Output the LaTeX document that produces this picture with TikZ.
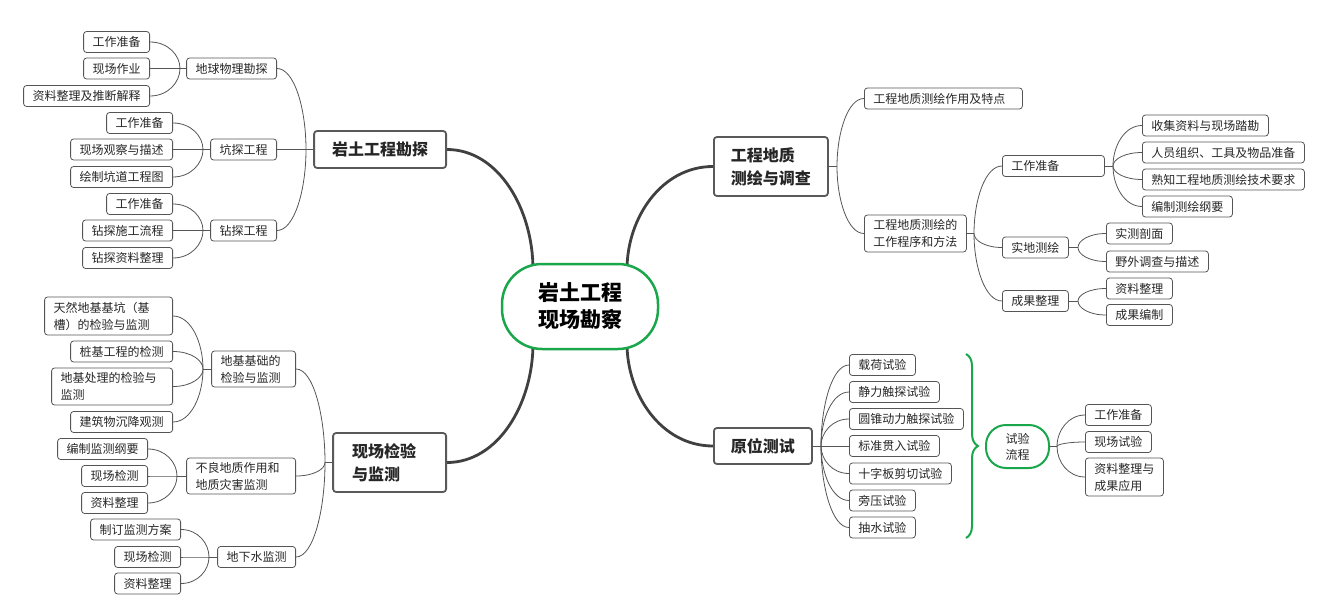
\documentclass[tikz,border=0pt]{standalone}
\usepackage{fontspec}
\setmainfont{Noto Sans CJK SC}
\usepackage{xcolor}
\usepackage{tikz}
\usetikzlibrary{positioning,arrows.meta,calc,decorations.pathreplacing,backgrounds}
\definecolor{mapgreen}{HTML}{1AA64B}
\definecolor{linegray}{HTML}{555555}

\begin{document}
\begin{tikzpicture}[x=1pt, y=1pt,
  every node/.style={font=\fontsize{12}{17}\selectfont, text=black!85},
  box/.style={draw=linegray, line width=0.8pt, rounded corners=3pt,
              minimum height=21pt, inner xsep=9pt, inner ysep=3pt},
  lbox/.style={box, anchor=east},
  rbox/.style={box, anchor=west},
  topic/.style={draw=black!65, line width=1.8pt, rounded corners=3pt, fill=white,
                font=\fontsize{16}{23}\selectfont\bfseries, inner xsep=17pt, align=left},
  core/.style={draw=mapgreen, line width=2.5pt, rounded corners=40pt, fill=white,
               minimum width=156pt, minimum height=85pt, align=center,
               font=\fontsize{21}{27}\selectfont\bfseries, text=black},
  flowbox/.style={draw=mapgreen, line width=2pt, rounded corners=20pt,
                  minimum width=63pt, minimum height=43pt, align=center,
                  font=\fontsize{12}{16}\selectfont},
  grpbrace/.style={draw=mapgreen, line width=2pt, decorate,
                   decoration={brace, amplitude=12pt}},
  link/.style={draw=linegray, line width=0.8pt},
  trunk/.style={draw=black!75, line width=2.8pt},
  branch/.style={to path={.. controls ($(\tikztostart)!0.6!(\tikztotarget |- \tikztostart)$)
                 and ($(\tikztotarget)!0.5!(\tikztotarget |- \tikztostart)$) .. (\tikztotarget)}}]

  \useasboundingbox (0,0) rectangle (1321,-615);

  %% ─── Centre ────────────────────────────────────────────────────────────
  \node[core] (core) at (580,-306.5) {岩土工程\\现场勘察};
  \coordinate (core_nw) at ($(core.center)+(-47,37)$);
  \coordinate (core_ne) at ($(core.center)+(47,37)$);
  \coordinate (core_sw) at ($(core.center)+(-47,-37)$);
  \coordinate (core_se) at ($(core.center)+(47,-37)$);

  %% ─── Left top: 岩土工程勘探 ─────────────────────────────────────────────
  \node[topic, anchor=east, minimum height=37pt, inner xsep=18pt] (kt_main) at (447,-149.5) {岩土工程勘探};
  \coordinate (kt_j) at (306,-149.5);
  \node[lbox] (kt_wl) at (277,-68.5)  {地球物理勘探};
  \node[lbox] (kt_kt) at (277,-149.5) {坑探工程};
  \node[lbox] (kt_zt) at (277,-230.5) {钻探工程};

  \coordinate (kt_wl_j) at (180,-68.5);
  \node[lbox] (kt_wl1) at (150,-42)   {工作准备};
  \node[lbox] (kt_wl2) at (150,-68.5) {现场作业};
  \node[lbox] (kt_wl3) at (150,-96)   {资料整理及推断解释};

  \coordinate (kt_kt_j) at (203,-149.5);
  \node[lbox] (kt_kt1) at (173,-123)   {工作准备};
  \node[lbox] (kt_kt2) at (173,-149.5) {现场观察与描述};
  \node[lbox] (kt_kt3) at (173,-177)   {绘制坑道工程图};

  \coordinate (kt_zt_j) at (203,-230.5);
  \node[lbox] (kt_zt1) at (173,-204)   {工作准备};
  \node[lbox] (kt_zt2) at (173,-230.5) {钻探施工流程};
  \node[lbox] (kt_zt3) at (173,-258)   {钻探资料整理};

  \draw[link] (kt_main.west) -- (kt_j);
  \draw[link] (kt_wl.east) to[branch] (kt_j);
  \draw[link] (kt_kt.east) to[branch] (kt_j);
  \draw[link] (kt_zt.east) to[branch] (kt_j);
  \draw[link] (kt_wl.west) -- (kt_wl_j);
  \draw[link] (kt_wl1.east) to[branch] (kt_wl_j);
  \draw[link] (kt_wl2.east) to[branch] (kt_wl_j);
  \draw[link] (kt_wl3.east) to[branch] (kt_wl_j);
  \draw[link] (kt_kt.west) -- (kt_kt_j);
  \draw[link] (kt_kt1.east) to[branch] (kt_kt_j);
  \draw[link] (kt_kt2.east) to[branch] (kt_kt_j);
  \draw[link] (kt_kt3.east) to[branch] (kt_kt_j);
  \draw[link] (kt_zt.west) -- (kt_zt_j);
  \draw[link] (kt_zt1.east) to[branch] (kt_zt_j);
  \draw[link] (kt_zt2.east) to[branch] (kt_zt_j);
  \draw[link] (kt_zt3.east) to[branch] (kt_zt_j);

  %% ─── Left bottom: 现场检验与监测 ───────────────────────────────────────
  \node[topic, anchor=east, minimum height=59pt, text width=75pt, inner xsep=19pt] (jc_main) at (447,-462.5) {现场检验\\与监测};
  \coordinate (jc_j) at (325,-462.5);
  \node[lbox, text width=66pt, align=left, minimum height=36pt] (jc_dj) at (296,-369) {地基基础的\\检验与监测};
  \node[lbox, text width=91pt, align=left, minimum height=36pt] (jc_bl) at (296,-476) {不良地质作用和\\地质灾害监测};
  \node[lbox] (jc_dx) at (296,-557) {地下水监测};

  \coordinate (jc_dj_j) at (203,-369);
  \node[lbox, text width=110pt, align=left, minimum height=38pt] (jc_dj1) at (173,-316) {天然地基基坑（基\\槽）的检验与监测};
  \node[lbox] (jc_dj2) at (173,-351.5) {桩基工程的检测};
  \node[lbox, text width=103pt, align=left, minimum height=37pt] (jc_dj3) at (173,-386.5) {地基处理的检验与\\监测};
  \node[lbox] (jc_dj4) at (173,-422) {建筑物沉降观测};

  \coordinate (jc_bl_j) at (177,-476);
  \node[lbox] (jc_bl1) at (148,-449) {编制监测纲要};
  \node[lbox] (jc_bl2) at (148,-476) {现场检测};
  \node[lbox] (jc_bl3) at (148,-503) {资料整理};

  \coordinate (jc_dx_j) at (209,-557);
  \node[lbox] (jc_dx1) at (181,-529.5) {制订监测方案};
  \node[lbox] (jc_dx2) at (181,-557)   {现场检测};
  \node[lbox] (jc_dx3) at (181,-583.5) {资料整理};

  \draw[link] (jc_main.west) -- (jc_j);
  \draw[link] (jc_dj.east) to[branch] (jc_j);
  \draw[link] (jc_bl.east) to[branch] (jc_j);
  \draw[link] (jc_dx.east) to[branch] (jc_j);
  \draw[link] (jc_dj.west) -- (jc_dj_j);
  \draw[link] (jc_dj1.east) to[branch] (jc_dj_j);
  \draw[link] (jc_dj2.east) to[branch] (jc_dj_j);
  \draw[link] (jc_dj3.east) to[branch] (jc_dj_j);
  \draw[link] (jc_dj4.east) to[branch] (jc_dj_j);
  \draw[link] (jc_bl.west) -- (jc_bl_j);
  \draw[link] (jc_bl1.east) to[branch] (jc_bl_j);
  \draw[link] (jc_bl2.east) to[branch] (jc_bl_j);
  \draw[link] (jc_bl3.east) to[branch] (jc_bl_j);
  \draw[link] (jc_dx.west) -- (jc_dx_j);
  \draw[link] (jc_dx1.east) to[branch] (jc_dx_j);
  \draw[link] (jc_dx2.east) to[branch] (jc_dx_j);
  \draw[link] (jc_dx3.east) to[branch] (jc_dx_j);

  %% ─── Right top: 工程地质测绘与调查 ─────────────────────────────────────
  \node[topic, anchor=west, minimum height=59pt] (ch_main) at (713,-166.5) {工程地质\\测绘与调查};
  \coordinate (ch_j) at (837,-166.5);
  \node[rbox, text width=140pt, align=left] (ch_td) at (864,-98.5) {工程地质测绘作用及特点};
  \node[rbox, text width=84pt, align=left, minimum height=37pt] (ch_cx) at (864,-233.5) {工程地质测绘的\\工作程序和方法};

  \coordinate (ch_cx_j) at (974,-233.5);
  \node[rbox, text width=84pt, align=left] (ch_zb) at (1002,-166) {工作准备};
  \node[rbox] (ch_sd) at (1002,-247.5) {实地测绘};
  \node[rbox] (ch_cg) at (1002,-301)   {成果整理};

  \coordinate (ch_zb_j) at (1113,-166);
  \node[rbox] (ch_zb1) at (1142,-125.5) {收集资料与现场踏勘};
  \node[rbox] (ch_zb2) at (1142,-152.5) {人员组织、工具及物品准备};
  \node[rbox] (ch_zb3) at (1142,-179.5) {熟知工程地质测绘技术要求};
  \node[rbox] (ch_zb4) at (1142,-206.5) {编制测绘纲要};

  \coordinate (ch_sd_j) at (1078,-247.5);
  \node[rbox] (ch_sd1) at (1106,-233.5) {实测剖面};
  \node[rbox] (ch_sd2) at (1106,-261.5) {野外调查与描述};

  \coordinate (ch_cg_j) at (1078,-301);
  \node[rbox] (ch_cg1) at (1106,-288.5) {资料整理};
  \node[rbox] (ch_cg2) at (1106,-315)   {成果编制};

  \draw[link] (ch_main.east) -- (ch_j);
  \draw[link] (ch_td.west) to[branch] (ch_j);
  \draw[link] (ch_cx.west) to[branch] (ch_j);
  \draw[link] (ch_cx.east) -- (ch_cx_j);
  \draw[link] (ch_zb.west) to[branch] (ch_cx_j);
  \draw[link] (ch_sd.west) to[branch] (ch_cx_j);
  \draw[link] (ch_cg.west) to[branch] (ch_cx_j);
  \draw[link] (ch_zb.east) -- (ch_zb_j);
  \draw[link] (ch_zb1.west) to[branch] (ch_zb_j);
  \draw[link] (ch_zb2.west) to[branch] (ch_zb_j);
  \draw[link] (ch_zb3.west) to[branch] (ch_zb_j);
  \draw[link] (ch_zb4.west) to[branch] (ch_zb_j);
  \draw[link] (ch_sd.east) -- (ch_sd_j);
  \draw[link] (ch_sd1.west) to[branch] (ch_sd_j);
  \draw[link] (ch_sd2.west) to[branch] (ch_sd_j);
  \draw[link] (ch_cg.east) -- (ch_cg_j);
  \draw[link] (ch_cg1.west) to[branch] (ch_cg_j);
  \draw[link] (ch_cg2.west) to[branch] (ch_cg_j);

  %% ─── Right bottom: 原位测试 ─────────────────────────────────────────────
  \node[topic, anchor=west, minimum height=36pt] (cs_main) at (713,-446) {原位测试};
  \coordinate (cs_j) at (821,-446);
  \node[rbox] (cs_1) at (849,-365)   {载荷试验};
  \node[rbox] (cs_2) at (849,-392)   {静力触探试验};
  \node[rbox] (cs_3) at (849,-419)   {圆锥动力触探试验};
  \node[rbox] (cs_4) at (849,-446)   {标准贯入试验};
  \node[rbox] (cs_5) at (849,-473.5) {十字板剪切试验};
  \node[rbox] (cs_6) at (849,-500.5) {旁压试验};
  \node[rbox] (cs_7) at (849,-527.5) {抽水试验};

  \draw[link] (cs_main.east) -- (cs_j);
  \draw[link] (cs_1.west) to[branch] (cs_j);
  \draw[link] (cs_2.west) to[branch] (cs_j);
  \draw[link] (cs_3.west) to[branch] (cs_j);
  \draw[link] (cs_4.west) -- (cs_j);
  \draw[link] (cs_5.west) to[branch] (cs_j);
  \draw[link] (cs_6.west) to[branch] (cs_j);
  \draw[link] (cs_7.west) to[branch] (cs_j);

  % brace + test flow
  \coordinate (br_top) at (966,-354);
  \coordinate (br_bot) at (966,-538);
  \draw[grpbrace] (br_top) -- (br_bot);
  \node[flowbox] (cs_lc) at (1017.5,-446.5) {试验\\流程};
  \coordinate (cs_lc_j) at (1057,-446.5);
  \node[rbox] (cs_lc1) at (1085,-415) {工作准备};
  \node[rbox] (cs_lc2) at (1085,-442) {现场试验};
  \node[rbox, text width=60pt, align=left, minimum height=38pt] (cs_lc3) at (1085,-477) {资料整理与\\成果应用};
  \draw[link] (cs_lc.east) -- (cs_lc_j);
  \draw[link] (cs_lc1.west) to[branch] (cs_lc_j);
  \draw[link] (cs_lc2.west) to[branch] (cs_lc_j);
  \draw[link] (cs_lc3.west) to[branch] (cs_lc_j);

  %% ─── Trunks (behind the boxes) ─────────────────────────────────────────
  \begin{scope}[on background layer]
    \draw[trunk] (kt_main.east) to[branch] (core_nw);
    \draw[trunk] (jc_main.east) to[branch] (core_sw);
    \draw[trunk] (ch_main.west) to[branch] (core_ne);
    \draw[trunk] (cs_main.west) to[branch] (core_se);
  \end{scope}
\end{tikzpicture}
\end{document}
